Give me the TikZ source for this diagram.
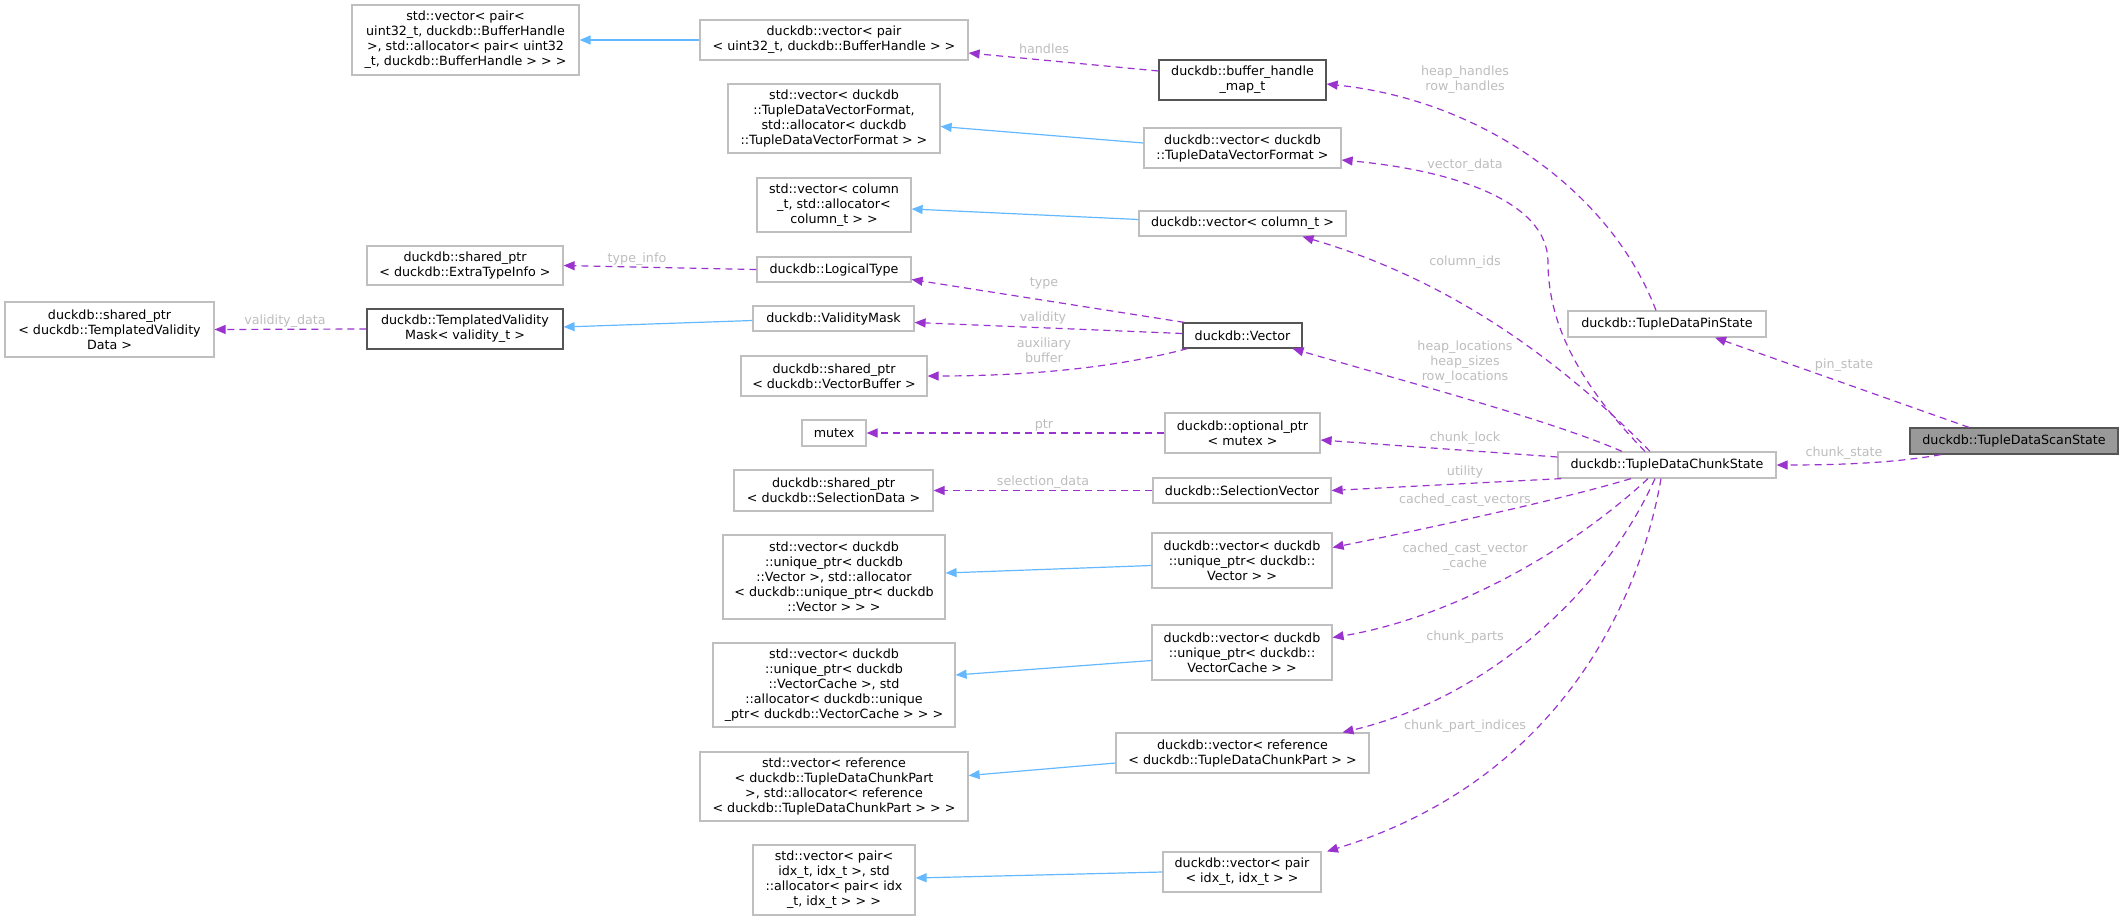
\documentclass[tikz,border=0pt]{standalone}
\usepackage{fontspec}
\setmainfont{DejaVu Sans}
\usetikzlibrary{arrows.meta}
\definecolor{boxgray}{HTML}{BFBFBF}
\definecolor{darkb}{HTML}{555555}
\definecolor{usecol}{HTML}{9A32CD}
\definecolor{inhcol}{HTML}{63B8FF}
\definecolor{labcol}{HTML}{BDBDBD}
\definecolor{curfill}{HTML}{999999}
\newcommand\dgfont{\fontsize{12.7}{15}\selectfont}
\tikzset{
  box/.style={draw=boxgray, fill=white, line width=1.2pt, inner sep=0pt, align=center, font=\dgfont},
  dbox/.style={box, draw=darkb},
  cur/.style={box, draw=darkb, fill=curfill},
  lab/.style={inner sep=0pt, align=center, font=\dgfont, text=labcol},
  use/.style={draw=usecol, line width=1.2pt, dash pattern=on 7pt off 5pt, -{Triangle[length=11pt,width=9pt]}},
  inh/.style={draw=inhcol, line width=1.2pt, -{Triangle[length=11pt,width=9pt]}}
}
\begin{document}
\begin{tikzpicture}[x=1pt,y=-1pt]
\useasboundingbox (0,0) rectangle (2119,920);
% left column
\node[box, minimum width=227pt, minimum height=70pt] (a1) at (465.5,40) {std::vector< pair<\\ uint32\_t, duckdb::BufferHandle\\ >, std::allocator< pair< uint32\\ \_t, duckdb::BufferHandle > > >};
\node[box, minimum width=196pt, minimum height=39pt] (a2) at (465,265.5) {duckdb::shared\_ptr\\< duckdb::ExtraTypeInfo >};
\node[box, minimum width=209pt, minimum height=55pt] (a3) at (109.5,329.5) {duckdb::shared\_ptr\\< duckdb::TemplatedValidity\\Data >};
\node[dbox, minimum width=196pt, minimum height=40pt] (a4) at (465,329) {duckdb::TemplatedValidity\\Mask< validity\_t >};
% middle column
\node[box, minimum width=268pt, minimum height=40pt] (b1) at (834,40) {duckdb::vector< pair\\< uint32\_t, duckdb::BufferHandle > >};
\node[box, minimum width=212pt, minimum height=69pt] (b2) at (834,118.5) {std::vector< duckdb\\::TupleDataVectorFormat,\\ std::allocator< duckdb\\::TupleDataVectorFormat > >};
\node[box, minimum width=154pt, minimum height=54pt] (b3) at (834,205) {std::vector< column\\\_t, std::allocator<\\ column\_t > >};
\node[box, minimum width=154pt, minimum height=25pt] (b4) at (834,269.5) {duckdb::LogicalType};
\node[box, minimum width=161pt, minimum height=25pt] (b5) at (833.5,318.5) {duckdb::ValidityMask};
\node[box, minimum width=186pt, minimum height=40pt] (b6) at (834,376) {duckdb::shared\_ptr\\< duckdb::VectorBuffer >};
\node[box, minimum width=64pt, minimum height=26pt] (b7) at (834,433) {mutex};
\node[box, minimum width=199pt, minimum height=41pt] (b8) at (833.5,490.5) {duckdb::shared\_ptr\\< duckdb::SelectionData >};
\node[box, minimum width=222pt, minimum height=84pt] (b9) at (834,577) {std::vector< duckdb\\::unique\_ptr< duckdb\\::Vector >, std::allocator\\< duckdb::unique\_ptr< duckdb\\::Vector > > >};
\node[box, minimum width=242pt, minimum height=84pt] (b10) at (834,685) {std::vector< duckdb\\::unique\_ptr< duckdb\\::VectorCache >, std\\::allocator< duckdb::unique\\\_ptr< duckdb::VectorCache > > >};
\node[box, minimum width=268pt, minimum height=69pt] (b11) at (834,786.5) {std::vector< reference\\< duckdb::TupleDataChunkPart\\ >, std::allocator< reference\\< duckdb::TupleDataChunkPart > > >};
\node[box, minimum width=162pt, minimum height=70pt] (b12) at (834,880) {std::vector< pair<\\ idx\_t, idx\_t >, std\\::allocator< pair< idx\\\_t, idx\_t > > >};
% third column
\node[dbox, minimum width=167pt, minimum height=40pt] (c1) at (1242.5,80) {duckdb::buffer\_handle\\\_map\_t};
\node[box, minimum width=197pt, minimum height=40pt] (c2) at (1242.5,148) {duckdb::vector< duckdb\\::TupleDataVectorFormat >};
\node[box, minimum width=207pt, minimum height=25pt] (c3) at (1242.5,223.5) {duckdb::vector< column\_t >};
\node[dbox, minimum width=119pt, minimum height=25pt] (c4) at (1242.5,335.5) {duckdb::Vector};
\node[box, minimum width=155pt, minimum height=40pt] (c5) at (1242.5,433) {duckdb::optional\_ptr\\< mutex >};
\node[box, minimum width=178pt, minimum height=25pt] (c6) at (1242,490.5) {duckdb::SelectionVector};
\node[box, minimum width=180pt, minimum height=55pt] (c7) at (1242,560.5) {duckdb::vector< duckdb\\::unique\_ptr< duckdb::\\Vector > >};
\node[box, minimum width=180pt, minimum height=55pt] (c8) at (1242,652.5) {duckdb::vector< duckdb\\::unique\_ptr< duckdb::\\VectorCache > >};
\node[box, minimum width=253pt, minimum height=40pt] (c9) at (1242.5,753) {duckdb::vector< reference\\< duckdb::TupleDataChunkPart > >};
\node[box, minimum width=158pt, minimum height=40pt] (c10) at (1242,872) {duckdb::vector< pair\\< idx\_t, idx\_t > >};
% right
\node[box, minimum width=198pt, minimum height=26pt] (d1) at (1667,324) {duckdb::TupleDataPinState};
\node[box, minimum width=218pt, minimum height=26pt] (d2) at (1667,465) {duckdb::TupleDataChunkState};
\node[cur, minimum width=208pt, minimum height=26pt] (d3) at (2014,441) {duckdb::TupleDataScanState};
% inheritance
\draw[inh] (b1.west) -- (a1.east);
\draw[inh] ([yshift=5pt]c2.west) -- ([yshift=-8pt]b2.east);
\draw[inh] ([yshift=4pt]c3.west) -- ([yshift=-4pt]b3.east);
\draw[inh] ([yshift=-2pt]b5.west) -- ([yshift=2pt]a4.east);
\draw[inh] ([yshift=-5pt]c7.west) -- ([yshift=4pt]b9.east);
\draw[inh] ([yshift=-8pt]c8.west) -- ([yshift=10pt]b10.east);
\draw[inh] ([yshift=-10pt]c9.west) -- ([yshift=11pt]b11.east);
\draw[inh] (c10.west) -- ([yshift=2pt]b12.east);
% usage
\draw[use] ([yshift=9pt]c1.west) -- ([yshift=-13pt]b1.east);
\draw[use] (b4.west) -- (a2.east);
\draw[use] (a4.west) -- (a3.east);
\draw[use] ([xshift=2pt]c4.north west) -- ([yshift=-10pt]b4.east);
\draw[use] ([yshift=2pt]c4.west) -- ([yshift=-4pt]b5.east);
\draw[use] ([xshift=5pt]c4.south west) .. controls (1100,372) and (1000,376) .. (b6.east);
\draw[use] (c5.west) -- (b7.east);
\draw[use] (c6.west) -- (b8.east);
\draw[use] ([xshift=-11pt]d1.north) .. controls (1610,190) and (1480,100) .. ([yshift=-4pt]c1.east);
\coordinate (vd) at (1548,262);
\draw[use] ([xshift=-22pt]d2.north) .. controls (1575,380) and (1548,320) .. (vd) .. controls (1548,200) and (1450,170) .. ([yshift=-12pt]c2.east);
\draw[use] ([xshift=-17pt]d2.north) .. controls (1560,360) and (1450,280) .. ([xshift=60pt]c3.south);
\draw[use] ([xshift=-45pt]d2.north) .. controls (1550,420) and (1400,380) .. ([xshift=50pt]c4.south);
\draw[use] ([yshift=8pt]d2.west) -- ([yshift=-7pt]c5.east);
\draw[use] ([xshift=4pt]d2.south west) -- (c6.east);
\draw[use] ([xshift=-36pt]d2.south) .. controls (1560,500) and (1420,530) .. ([yshift=13pt]c7.east);
\draw[use] ([xshift=-19pt]d2.south) .. controls (1560,560) and (1440,620) .. ([yshift=15pt]c8.east);
\draw[use] ([xshift=-12pt]d2.south) .. controls (1600,600) and (1480,700) .. ([xshift=100pt]c9.north);
\draw[use] ([xshift=-6pt]d2.south) .. controls (1640,600) and (1560,780) .. ([xshift=85pt]c10.north);
\draw[use] ([xshift=-45pt]d3.north) -- ([xshift=48pt]d1.south);
\draw[use] ([xshift=-73pt]d3.south) .. controls (1900,462) and (1850,465) .. (d2.east);
% labels
\node[lab] (l1) at (1044,49) {handles};
\node[lab] (l2) at (637,259) {type\_info};
\node[lab] (l3) at (285,321) {validity\_data};
\node[lab] (l4) at (1044,283) {type};
\node[lab] (l5) at (1043,318) {validity};
\node[lab] (l6) at (1044,350) {auxiliary\\buffer};
\node[lab] (l7) at (1044,425) {ptr};
\node[lab] (l8) at (1043,482) {selection\_data};
\node[lab] (l9) at (1465,80) {heap\_handles\\row\_handles};
\node[lab] (l10) at (1465,165) {vector\_data};
\node[lab] (l11) at (1465,262) {column\_ids};
\node[lab] (l12) at (1465,362) {heap\_locations\\heap\_sizes\\row\_locations};
\node[lab] (l13) at (1465,438) {chunk\_lock};
\node[lab] (l14) at (1465,472) {utility};
\node[lab] (l15) at (1465,500) {cached\_cast\_vectors};
\node[lab] (l16) at (1465,557) {cached\_cast\_vector\\\_cache};
\node[lab] (l17) at (1465,637) {chunk\_parts};
\node[lab] (l18) at (1465,726) {chunk\_part\_indices};
\node[lab] (l19) at (1844,365) {pin\_state};
\node[lab] (l20) at (1844,453) {chunk\_state};
\end{tikzpicture}
\end{document}
